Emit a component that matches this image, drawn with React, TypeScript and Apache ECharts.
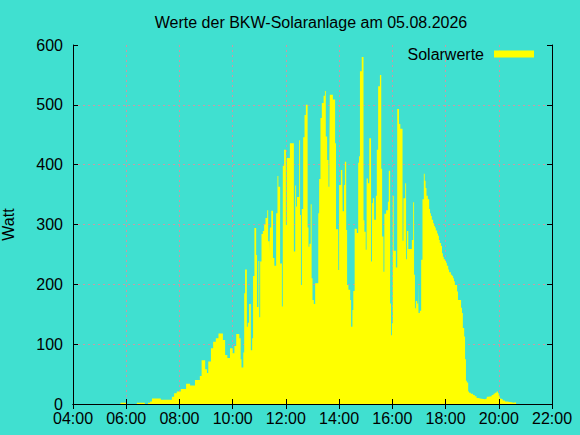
import React, { useEffect, useRef } from "react";
import * as echarts from "echarts";

const TITLE = "Werte der BKW-Solaranlage am 05.08.2026";
const SERIES_NAME = "Solarwerte";
const Y_NAME = "Watt";

// x axis in minutes since midnight (04:00 .. 22:00)
const X_MIN = 240;
const X_MAX = 1320;
const X_STEP = 120;
const Y_MIN = 0;
const Y_MAX = 600;
const Y_STEP = 100;

// start minute of each measurement step
const times = [
  347, 361, 384, 402, 409, 414, 418, 438, 463, 468, 474, 483, 495, 504, 515, 526, 530, 538, 542, 545,
  551, 556, 562, 568, 578, 583, 588, 594, 600, 604, 608, 615, 618, 620, 624, 626, 628, 632, 634, 637,
  641, 644, 646, 649, 653, 655, 658, 660, 662, 665, 668, 671, 674, 678, 680, 683, 684, 687, 691, 694,
  698, 701, 703, 707, 711, 713, 716, 720, 722, 729, 738, 741, 743, 745, 750, 752, 754, 756, 759, 762,
  765, 769, 771, 773, 776, 778, 780, 783, 786, 793, 795, 798, 801, 805, 808, 810, 813, 816, 818, 819,
  826, 831, 833, 838, 840, 844, 847, 848, 851, 853, 856, 858, 861, 865, 867, 870, 872, 875, 880, 883,
  885, 887, 891, 895, 897, 900, 902, 905, 908, 912, 914, 916, 919, 923, 925, 928, 932, 935, 937, 940,
  942, 946, 950, 952, 955, 957, 959, 961, 963, 968, 971, 975, 978, 983, 985, 989, 991, 993, 996, 1004,
  1007, 1009, 1011, 1013, 1016, 1018, 1019, 1022, 1025, 1028, 1031, 1033, 1035, 1037, 1040, 1043, 1045, 1047, 1049, 1052,
  1054, 1056, 1058, 1061, 1063, 1065, 1067, 1070, 1072, 1074, 1076, 1079, 1081, 1083, 1086, 1088, 1092, 1095, 1097, 1099,
  1101, 1106, 1108, 1115, 1117, 1119, 1122, 1124, 1126, 1128, 1131, 1133, 1137, 1142, 1146, 1150, 1154, 1158, 1169, 1173,
  1176, 1184, 1188, 1191, 1195, 1198, 1200, 1202, 1204, 1209, 1214, 1219, 1229, 1233, 1239,
];

// power in watts for each step
const watts = [
  2, 0, 2, 0, 2, 4, 9, 7, 12, 18, 21, 25, 34, 31, 40, 47, 73, 58, 52, 71,
  93, 104, 110, 118, 107, 82, 77, 93, 85, 97, 117, 110, 75, 61, 86, 185, 225, 129, 136, 167,
  90, 110, 214, 294, 249, 162, 239, 145, 238, 284, 289, 300, 311, 324, 272, 251, 295, 323, 244, 231,
  319, 381, 363, 235, 163, 398, 425, 299, 411, 436, 255, 365, 330, 346, 441, 316, 199, 326, 446, 483,
  500, 295, 263, 268, 334, 210, 174, 167, 202, 319, 376, 478, 503, 515, 523, 447, 408, 363, 411, 517,
  509, 436, 292, 224, 366, 391, 402, 322, 366, 405, 291, 199, 191, 174, 129, 157, 189, 293, 286, 403,
  414, 556, 580, 307, 288, 258, 377, 369, 444, 238, 336, 344, 308, 348, 425, 531, 550, 393, 280, 221,
  318, 324, 338, 390, 168, 115, 135, 348, 256, 228, 493, 468, 460, 273, 344, 369, 242, 289, 259, 274,
  337, 216, 160, 172, 168, 210, 152, 156, 241, 342, 385, 373, 361, 348, 342, 326, 319, 314, 308, 302,
  298, 295, 290, 285, 281, 274, 269, 264, 252, 246, 242, 239, 236, 231, 225, 220, 216, 214, 210, 205,
  199, 188, 174, 161, 152, 127, 113, 75, 39, 36, 21, 19, 17, 15, 13, 10, 9, 8, 9, 12,
  13, 15, 17, 19, 21, 18, 13, 9, 8, 6, 4, 3, 2, 3, 0,
];

const FONT = "'Liberation Sans', Arial, sans-serif";
const TEXT_COLOR = "#000000";
const GRID_COLOR = "#c89ba5";

const fmtTime = (v: number) => {
  const h = Math.floor(v / 60);
  const m = Math.round(v % 60);
  return `${String(h).padStart(2, "0")}:${String(m).padStart(2, "0")}`;
};

export default function App() {
  const ref = useRef<HTMLDivElement>(null);

  useEffect(() => {
    document.body.style.margin = "0";
    if (!ref.current) return;
    const chart = echarts.init(ref.current, undefined, { renderer: "svg" });
    const data = times.map((t, i) => [t, watts[i]]);

    const tickCommon = { show: true, inside: true, length: 5, lineStyle: { color: "#000", width: 1 } };
    const axisLineCommon = { show: true, lineStyle: { color: "#000", width: 1 } };
    const splitCommon = {
      show: true,
      showMinLine: false,
      showMaxLine: false,
      lineStyle: { color: GRID_COLOR, width: 1, type: [2, 3] },
    };

    chart.setOption({
      animation: false,
      backgroundColor: "#40e0d0",
      textStyle: { fontFamily: FONT },
      title: {
        text: TITLE,
        left: 306,
        top: 9,
        textAlign: "center",
        textStyle: { fontFamily: FONT, fontSize: 16, fontWeight: "normal", color: TEXT_COLOR },
      },
      legend: {
        data: [{ name: SERIES_NAME, icon: "rect" }],
        right: 46,
        top: 46,
        padding: 0,
        align: "right",
        itemWidth: 40,
        itemHeight: 7,
        textStyle: { fontFamily: FONT, fontSize: 16, color: TEXT_COLOR, padding: [0, 5, 6, 0] },
      },
      grid: {
        left: 73,
        right: 28,
        top: 45,
        bottom: 31,
        containLabel: false,
        outerBoundsMode: "none",
      },
      xAxis: [
        {
          type: "value",
          position: "bottom",
          min: X_MIN,
          max: X_MAX,
          interval: X_STEP,
          z: 5,
          axisLine: axisLineCommon,
          axisTick: tickCommon,
          splitLine: { show: false },
          axisLabel: {
            formatter: fmtTime,
            fontFamily: FONT,
            fontSize: 16,
            color: TEXT_COLOR,
            margin: 6,
          },
        },
        {
          type: "value",
          position: "top",
          min: X_MIN,
          max: X_MAX,
          interval: X_STEP,
          z: 0,
          axisLine: axisLineCommon,
          axisTick: tickCommon,
          splitLine: splitCommon,
          axisLabel: { show: false },
        },
      ],
      yAxis: [
        {
          type: "value",
          position: "left",
          min: Y_MIN,
          max: Y_MAX,
          interval: Y_STEP,
          z: 5,
          name: Y_NAME,
          nameLocation: "middle",
          nameRotate: 90,
          nameGap: 57,
          nameTextStyle: { fontFamily: FONT, fontSize: 16, color: TEXT_COLOR },
          axisLine: axisLineCommon,
          axisTick: tickCommon,
          splitLine: { show: false },
          axisLabel: { fontFamily: FONT, fontSize: 16, color: TEXT_COLOR, margin: 10 },
        },
        {
          type: "value",
          position: "right",
          min: Y_MIN,
          max: Y_MAX,
          interval: Y_STEP,
          z: 0,
          axisLine: axisLineCommon,
          axisTick: tickCommon,
          splitLine: splitCommon,
          axisLabel: { show: false },
        },
      ],
      series: [
        {
          name: SERIES_NAME,
          type: "line",
          xAxisIndex: 0,
          yAxisIndex: 0,
          step: "end",
          data,
          showSymbol: false,
          symbol: "none",
          itemStyle: { color: "#ffff00" },
          lineStyle: { width: 0, color: "#ffff00" },
          areaStyle: { color: "#ffff00", opacity: 1 },
          z: 2,
        },
      ],
    });
    return () => chart.dispose();
  }, []);

  return (
    <div
      ref={ref}
      style={{ position: "absolute", left: 0, top: 0, width: 580, height: 435 }}
    />
  );
}
